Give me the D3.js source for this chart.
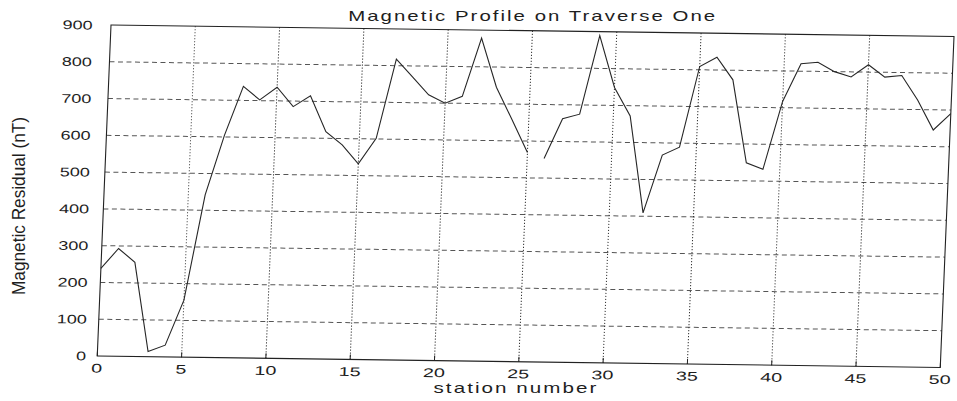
<!DOCTYPE html>
<html>
<head>
<meta charset="utf-8">
<script src="https://cdn.jsdelivr.net/npm/d3@7"></script>
<style>
  html, body { margin: 0; padding: 0; background: #fff; }
  svg { display: block; }
  text { font-family: "Liberation Sans", Arial, Helvetica, sans-serif; fill: #1e1e1e; }
</style>
</head>
<body>
<svg id="chart" width="957" height="401"></svg>
<script>
// ---- data ----
const stations = [0,1,2,3,4,5,6,7,8,9,10,11,12,13,14,15,16,17,18,19,20,21,22,23,24,25,
                  26,27,28,29,30,31,32,33,34,35,36,37,38,39,40,41,42,43,44,45,46,47,48,49,50];
const residual = [238,293,256,14,32,155,442,605,738,702,737,685,715,618,583,532,602,818,770,722,
                  700,719,878,745,658,569,553,662,675,889,749,672,409,567,589,809,835,774,549,532,
                  717,820,825,800,786,820,787,792,726,645,690];
// the scanned trace shows a break between station 25 and 26
const traceSegments = [[0, 25], [26, 50]];
const xTicks = [0,5,10,15,20,25,30,35,40,45,50];
const yTicks = [0,100,200,300,400,500,600,700,800,900];
const titleText = "Magnetic Profile on Traverse One";
const xLabelText = "station number";
const yLabelText = "Magnetic Residual (nT)";

// ---- layout (scan is slightly skewed) ----
const W = 843, H = 331;
const svg = d3.select("#chart");
const x = d3.scaleLinear().domain([0, 50]).range([0, W]);
const y = d3.scaleLinear().domain([0, 900]).range([H, 0]);

const g = svg.append("g")
  .attr("transform", "matrix(1,0.0136,-0.0415,1,111,25)");

// horizontal grid (dashed)
g.append("g").selectAll("line")
  .data(yTicks.filter(v => v > 0 && v < 900))
  .join("line")
  .attr("x1", 0).attr("x2", W)
  .attr("y1", d => y(d)).attr("y2", d => y(d))
  .attr("stroke", "#555").attr("stroke-width", 1)
  .attr("stroke-dasharray", "5,3.5");

// vertical grid (dotted)
g.append("g").selectAll("line")
  .data(xTicks.filter(v => v > 0 && v < 50))
  .join("line")
  .attr("x1", d => x(d)).attr("x2", d => x(d))
  .attr("y1", 0).attr("y2", H)
  .attr("stroke", "#333").attr("stroke-width", 1)
  .attr("stroke-dasharray", "1.2,1.8");

// small inward ticks
g.append("g").selectAll("line")
  .data(xTicks)
  .join("line")
  .attr("x1", d => x(d)).attr("x2", d => x(d))
  .attr("y1", H).attr("y2", H - 5)
  .attr("stroke", "#222");

// frame
g.append("rect")
  .attr("x", 0).attr("y", 0).attr("width", W).attr("height", H)
  .attr("fill", "none").attr("stroke", "#222").attr("stroke-width", 1.1);

// data trace
const line = d3.line()
  .x(d => x(d.s))
  .y(d => y(d.v));
const points = stations.map((s, i) => ({ s: s, v: residual[i] }));
g.append("g").selectAll("path")
  .data(traceSegments.map(([a, b]) => points.filter(p => p.s >= a && p.s <= b)))
  .join("path")
  .attr("d", line)
  .attr("fill", "none")
  .attr("stroke", "#262626")
  .attr("stroke-width", 1.1)
  .attr("stroke-linejoin", "miter");

// x tick labels
g.append("g").selectAll("text")
  .data(xTicks)
  .join("text")
  .attr("x", d => x(d))
  .attr("y", H + 16.5)
  .attr("text-anchor", "middle")
  .attr("font-size", 12.5)
  .attr("textLength", d => 11 * String(d).length)
  .attr("lengthAdjust", "spacingAndGlyphs")
  .text(d => d);

// y tick labels (own skew in the scan)
const gy = svg.append("g")
  .attr("transform", "matrix(1,0.0136,-0.0202,1,92.7,25)");
gy.selectAll("text")
  .data(yTicks)
  .join("text")
  .attr("x", 0)
  .attr("y", d => y(d))
  .attr("dy", "0.36em")
  .attr("text-anchor", "end")
  .attr("font-size", 12.5)
  .attr("textLength", d => 10 * String(d).length)
  .attr("lengthAdjust", "spacingAndGlyphs")
  .text(d => d);

// title
svg.append("text")
  .attr("x", 532.7).attr("y", 20.5)
  .attr("text-anchor", "middle")
  .attr("font-size", 15)
  .attr("letter-spacing", "1.5px")
  .attr("textLength", 369)
  .attr("lengthAdjust", "spacingAndGlyphs")
  .text(titleText);

// x label
svg.append("text")
  .attr("x", 516).attr("y", 393)
  .attr("text-anchor", "middle")
  .attr("font-size", 15)
  .attr("letter-spacing", "1.5px")
  .attr("textLength", 165)
  .attr("lengthAdjust", "spacingAndGlyphs")
  .text(xLabelText);

// y label (tall, condensed)
svg.append("text")
  .attr("transform", "translate(25,206) rotate(-90)")
  .attr("text-anchor", "middle")
  .attr("font-size", 19)
  .attr("textLength", 178)
  .attr("lengthAdjust", "spacingAndGlyphs")
  .text(yLabelText);
</script>
</body>
</html>
